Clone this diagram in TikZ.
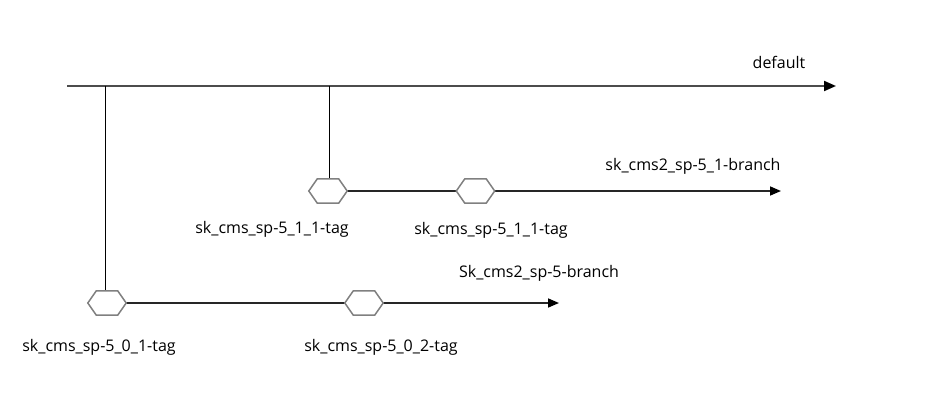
\documentclass[tikz,border=0pt]{standalone}
\usepackage{fontspec}
\setmainfont{Open Sans}
\usetikzlibrary{arrows.meta}
\tikzset{
  hexa/.style={rectangle, minimum width=38pt, minimum height=24pt, inner sep=0pt, draw=none},
  hexline/.style={draw=black!50, line width=1.5pt, fill=white, line join=miter},
  lbl/.style={font=\fontsize{16}{18}\selectfont, inner sep=0pt, text=black},
  mainline/.style={draw=black!70, line width=2pt, -{Triangle[length=12pt,width=10pt,color=black]}},
  branch/.style={draw=black!85, line width=1.6pt},
  brancharrow/.style={branch, -{Triangle[length=11pt,width=9pt,color=black]}},
  vline/.style={draw=black, line width=1pt}
}
\begin{document}
\begin{tikzpicture}[x=1pt,y=-1pt]
\useasboundingbox (0,0) rectangle (946,412);
\coordinate (m0) at (67,86);
\coordinate (m1) at (836,86);
\coordinate (j1) at (105.5,86);
\coordinate (j2) at (329,86);
\coordinate (e1) at (781,191);
\coordinate (e2) at (559,303);
\node[hexa] (A) at (328,191) {};
\node[hexa] (B) at (475.5,191) {};
\node[hexa] (C) at (107,303) {};
\node[hexa] (D) at (364,303) {};
\draw[mainline] (m0) -- (m1);
\draw[vline] (j1) -- (j1 |- C.north);
\draw[vline] (j2) -- (j2 |- A.north);
\draw[branch] (A.east) -- (B.west);
\draw[brancharrow] (B.east) -- (e1);
\draw[branch] (C.east) -- (D.west);
\draw[brancharrow] (D.east) -- (e2);
\foreach \n in {A,B,C,D}
  \draw[hexline] (\n.west) -- ([xshift=8.5pt]\n.north west) -- ([xshift=-8.5pt]\n.north east)
    -- (\n.east) -- ([xshift=-8.5pt]\n.south east) -- ([xshift=8.5pt]\n.south west) -- cycle;
\node[lbl] (t0) at (779,62) {default};
\node[lbl] (t1) at (693,166) {sk\_cms2\_sp-5\_1-branch};
\node[lbl] (t2) at (272,229) {sk\_cms\_sp-5\_1\_1-tag};
\node[lbl] (t3) at (491,230) {sk\_cms\_sp-5\_1\_1-tag};
\node[lbl] (t4) at (539,273) {Sk\_cms2\_sp-5-branch};
\node[lbl] (t5) at (99,347) {sk\_cms\_sp-5\_0\_1-tag};
\node[lbl] (t6) at (381,347) {sk\_cms\_sp-5\_0\_2-tag};
\end{tikzpicture}
\end{document}
